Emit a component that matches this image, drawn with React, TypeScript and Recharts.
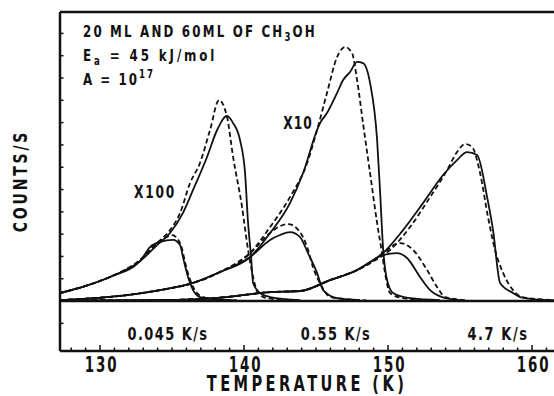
import { LineChart, Line, XAxis, YAxis, ReferenceLine } from "recharts"

// temperature (K) vs desorption rate (arbitrary units, one y tick = 1)
// "exp" = measured (solid), "sim" = simulated (dashed)

// 0.045 K/s
const slow60Exp = [
  { t: 127.22, c: 0.36 }, { t: 128.96, c: 0.67 }, { t: 130.69, c: 1.08 }, { t: 132.78, c: 1.79 },
  { t: 133.96, c: 2.51 }, { t: 134.86, c: 3.05 }, { t: 135.76, c: 3.95 }, { t: 136.46, c: 4.98 },
  { t: 137.43, c: 6.46 }, { t: 138.13, c: 7.67 }, { t: 138.82, c: 8.3 }, { t: 139.24, c: 7.98 },
  { t: 139.72, c: 7.22 }, { t: 140.07, c: 5.74 }, { t: 140.28, c: 3.5 }, { t: 140.49, c: 1.97 },
  { t: 140.63, c: 0.81 }, { t: 141.11, c: 0.36 }, { t: 141.81, c: 0.18 }, { t: 143.89, c: 0.04 },
]
const slow60Sim = [
  { t: 127.22, c: 0.36 }, { t: 128.96, c: 0.67 }, { t: 130.69, c: 1.08 }, { t: 132.78, c: 1.84 },
  { t: 133.96, c: 2.6 }, { t: 134.86, c: 3.18 }, { t: 135.56, c: 3.95 }, { t: 136.25, c: 5.29 },
  { t: 136.94, c: 6.19 }, { t: 137.64, c: 7.67 }, { t: 138.26, c: 9.01 }, { t: 138.82, c: 8.25 },
  { t: 139.24, c: 6.46 }, { t: 139.86, c: 4.22 }, { t: 140.28, c: 2.29 }, { t: 140.63, c: 1.08 },
  { t: 140.97, c: 0.36 }, { t: 141.6, c: 0.13 }, { t: 143.5, c: 0.03 },
]
const slow20Exp = [
  { t: 127.22, c: 0.36 }, { t: 128.96, c: 0.67 }, { t: 130.69, c: 1.08 }, { t: 132.78, c: 1.79 },
  { t: 133.47, c: 2.42 }, { t: 134.17, c: 2.65 }, { t: 135.07, c: 2.74 }, { t: 135.56, c: 2.51 },
  { t: 135.76, c: 1.97 }, { t: 136.11, c: 1.08 }, { t: 136.46, c: 0.49 }, { t: 136.94, c: 0.18 },
  { t: 137.85, c: 0.09 }, { t: 139.5, c: 0.03 },
]
const slow20Sim = [
  { t: 127.22, c: 0.36 }, { t: 128.96, c: 0.67 }, { t: 130.69, c: 1.08 }, { t: 132.78, c: 1.84 },
  { t: 133.96, c: 2.6 }, { t: 134.51, c: 2.83 }, { t: 135.0, c: 2.96 }, { t: 135.56, c: 2.6 },
  { t: 136.04, c: 1.39 }, { t: 136.46, c: 0.63 }, { t: 137.15, c: 0.18 }, { t: 137.99, c: 0.09 },
  { t: 139.5, c: 0.03 },
]

// 0.55 K/s
const mid60Exp = [
  { t: 127.22, c: 0.04 }, { t: 131.88, c: 0.27 }, { t: 134.17, c: 0.49 }, { t: 136.46, c: 0.81 },
  { t: 138.33, c: 1.3 }, { t: 140.42, c: 1.97 }, { t: 141.81, c: 3.05 }, { t: 143.19, c: 4.39 },
  { t: 144.1, c: 5.74 }, { t: 145.07, c: 7.67 }, { t: 145.28, c: 7.98 }, { t: 145.76, c: 8.43 },
  { t: 146.46, c: 9.33 }, { t: 146.88, c: 9.91 }, { t: 147.36, c: 10.27 }, { t: 147.85, c: 10.72 },
  { t: 148.26, c: 10.67 }, { t: 148.75, c: 9.78 }, { t: 149.24, c: 7.22 }, { t: 149.44, c: 4.98 },
  { t: 149.65, c: 2.42 }, { t: 149.93, c: 0.94 }, { t: 150.35, c: 0.36 }, { t: 151.53, c: 0.13 },
  { t: 153.61, c: 0.04 },
]
const mid60Sim = [
  { t: 127.22, c: 0.04 }, { t: 131.88, c: 0.27 }, { t: 134.17, c: 0.49 }, { t: 136.46, c: 0.81 },
  { t: 138.33, c: 1.3 }, { t: 140.42, c: 2.15 }, { t: 141.81, c: 3.32 }, { t: 143.19, c: 4.66 },
  { t: 144.38, c: 6.19 }, { t: 145.07, c: 7.67 }, { t: 145.76, c: 9.33 }, { t: 146.46, c: 10.94 },
  { t: 147.01, c: 11.39 }, { t: 147.5, c: 11.12 }, { t: 147.85, c: 9.91 }, { t: 148.26, c: 7.98 },
  { t: 148.75, c: 5.74 }, { t: 149.24, c: 3.5 }, { t: 149.58, c: 2.15 }, { t: 149.79, c: 1.26 },
  { t: 150.14, c: 0.36 }, { t: 151.04, c: 0.13 }, { t: 153.0, c: 0.03 },
]
const mid20Exp = [
  { t: 127.22, c: 0.04 }, { t: 131.88, c: 0.27 }, { t: 134.17, c: 0.49 }, { t: 136.46, c: 0.81 },
  { t: 138.33, c: 1.3 }, { t: 140.42, c: 1.97 }, { t: 141.81, c: 2.74 }, { t: 142.5, c: 2.96 },
  { t: 143.19, c: 3.09 }, { t: 143.89, c: 2.87 }, { t: 144.44, c: 2.15 }, { t: 145.07, c: 1.26 },
  { t: 145.49, c: 0.49 }, { t: 146.46, c: 0.13 }, { t: 148.06, c: 0.04 },
]
const mid20Sim = [
  { t: 127.22, c: 0.04 }, { t: 131.88, c: 0.27 }, { t: 134.17, c: 0.49 }, { t: 136.46, c: 0.81 },
  { t: 138.33, c: 1.3 }, { t: 140.42, c: 2.15 }, { t: 141.81, c: 3.05 }, { t: 142.5, c: 3.36 },
  { t: 143.06, c: 3.45 }, { t: 143.89, c: 3.09 }, { t: 144.38, c: 2.42 }, { t: 144.79, c: 1.52 },
  { t: 145.42, c: 0.63 }, { t: 145.97, c: 0.18 }, { t: 147.01, c: 0.09 }, { t: 148.5, c: 0.03 },
]

// 4.7 K/s
const fast60Exp = [
  { t: 127.22, c: 0.02 }, { t: 134.17, c: 0.04 }, { t: 138.82, c: 0.18 }, { t: 141.81, c: 0.4 },
  { t: 143.89, c: 0.45 }, { t: 145.97, c: 0.94 }, { t: 147.85, c: 1.39 }, { t: 148.75, c: 1.75 },
  { t: 149.65, c: 2.15 }, { t: 151.04, c: 3.18 }, { t: 152.43, c: 4.39 }, { t: 153.82, c: 5.65 },
  { t: 154.79, c: 6.32 }, { t: 155.49, c: 6.68 }, { t: 156.18, c: 6.55 }, { t: 156.88, c: 4.66 },
  { t: 157.29, c: 3.18 }, { t: 157.78, c: 0.81 }, { t: 158.68, c: 0.36 }, { t: 159.17, c: 0.18 },
  { t: 160.56, c: 0.06 }, { t: 161.94, c: 0.03 },
]
const fast60Sim = [
  { t: 127.22, c: 0.02 }, { t: 134.17, c: 0.04 }, { t: 138.82, c: 0.18 }, { t: 141.81, c: 0.4 },
  { t: 143.89, c: 0.45 }, { t: 145.97, c: 0.94 }, { t: 147.85, c: 1.39 }, { t: 148.75, c: 1.7 },
  { t: 150.14, c: 2.29 }, { t: 151.53, c: 3.32 }, { t: 152.92, c: 4.66 }, { t: 154.1, c: 5.87 },
  { t: 154.79, c: 6.68 }, { t: 155.35, c: 7.04 }, { t: 155.83, c: 6.91 }, { t: 156.39, c: 5.74 },
  { t: 156.94, c: 3.77 }, { t: 157.43, c: 2.29 }, { t: 157.99, c: 1.26 }, { t: 158.68, c: 0.49 },
  { t: 159.31, c: 0.18 }, { t: 160.9, c: 0.06 }, { t: 161.94, c: 0.03 },
]
const fast20Exp = [
  { t: 127.22, c: 0.02 }, { t: 134.17, c: 0.04 }, { t: 138.82, c: 0.18 }, { t: 141.81, c: 0.4 },
  { t: 143.89, c: 0.45 }, { t: 145.97, c: 0.94 }, { t: 147.85, c: 1.39 }, { t: 148.75, c: 1.75 },
  { t: 149.65, c: 2.06 }, { t: 150.63, c: 2.15 }, { t: 151.32, c: 1.93 }, { t: 152.22, c: 1.08 },
  { t: 152.92, c: 0.49 }, { t: 153.75, c: 0.18 }, { t: 155.0, c: 0.04 },
]
const fast20Sim = [
  { t: 127.22, c: 0.02 }, { t: 134.17, c: 0.04 }, { t: 138.82, c: 0.18 }, { t: 141.81, c: 0.4 },
  { t: 143.89, c: 0.45 }, { t: 145.97, c: 0.94 }, { t: 147.85, c: 1.39 }, { t: 148.75, c: 1.7 },
  { t: 149.65, c: 2.15 }, { t: 150.83, c: 2.6 }, { t: 151.74, c: 2.29 }, { t: 152.71, c: 1.39 },
  { t: 153.4, c: 0.63 }, { t: 153.96, c: 0.18 }, { t: 155.35, c: 0.04 },
]

const xTicks = [128, 129, 130, 131, 132, 133, 134, 135, 136, 137, 138, 139, 140, 141, 142, 143, 144,
  145, 146, 147, 148, 149, 150, 151, 152, 153, 154, 155, 156, 157, 158, 159, 160, 161]
const xLabelled = [130, 140, 150, 160]
const yTicks = [-1, 0, 1, 2, 3, 4, 5, 6, 7, 8, 9, 10, 11, 12]

const measured = [slow60Exp, slow20Exp, mid60Exp, mid20Exp, fast60Exp, fast20Exp]
const simulated = [slow60Sim, slow20Sim, mid60Sim, mid20Sim, fast60Sim, fast20Sim]

const FONT = "'DejaVu Sans', sans-serif"
const INK = "#111"

// bold lettering, squeezed horizontally like the narrow typeface of the scan
function Cond(props: any) {
  const { x, y, size, sx = 0.72, ls = 2, anchor = "start", rotate, children } = props
  const tf = `translate(${x} ${y})` + (rotate ? ` rotate(${rotate})` : "") + ` scale(${sx} 1)`
  return (
    <text
      x={0}
      y={0}
      transform={tf}
      fontFamily={FONT}
      fontWeight="bold"
      fontSize={size}
      letterSpacing={ls}
      fill={INK}
      textAnchor={anchor}
    >
      {children}
    </text>
  )
}

function XTick(props: any) {
  const { x, y, payload } = props
  const major = xLabelled.includes(payload.value)
  return (
    <g>
      <line x1={x} x2={x} y1={y} y2={y - (major ? 6 : 3.5)} stroke={INK} strokeWidth={1.5} />
      {major && (
        <Cond x={x + 1.5} y={y + 21} size={21} sx={0.64} ls={3} anchor="middle">
          {payload.value}
        </Cond>
      )}
    </g>
  )
}

function YTick(props: any) {
  const { x, y } = props
  return <line x1={x} x2={x + 3.5} y1={y} y2={y} stroke={INK} strokeWidth={1.5} />
}

export default function App() {
  return (
    <div style={{ position: "absolute", left: 0, top: 0, width: 554, height: 396, overflow: "hidden", background: "#fff" }}>
      <LineChart width={560} height={396} margin={{ top: 12, right: 0, left: 0, bottom: 0 }}>
        <XAxis
          dataKey="t"
          type="number"
          domain={[127.22, 161.94]}
          ticks={xTicks}
          interval={0}
          allowDataOverflow
          height={45}
          tickSize={0}
          tickMargin={0}
          tickLine={false}
          tick={<XTick />}
          axisLine={{ stroke: INK, strokeWidth: 2.5 }}
        />
        <YAxis
          type="number"
          domain={[-2.24, 12.96]}
          ticks={yTicks}
          interval={0}
          allowDataOverflow
          width={60}
          tickSize={0}
          tickMargin={0}
          tickLine={false}
          tick={<YTick />}
          axisLine={{ stroke: INK, strokeWidth: 2.5 }}
        />
        <ReferenceLine y={12.96} stroke={INK} strokeWidth={2.5} ifOverflow="visible" />
        <ReferenceLine y={0} stroke={INK} strokeWidth={2.5} />
        {measured.map((d, i) => (
          <Line key={"m" + i} data={d} dataKey="c" type="monotone" stroke={INK} strokeWidth={1.8}
            dot={false} isAnimationActive={false} />
        ))}
        {simulated.map((d, i) => (
          <Line key={"s" + i} data={d} dataKey="c" type="monotone" stroke={INK} strokeWidth={1.8}
            strokeDasharray="5 3" dot={false} isAnimationActive={false} />
        ))}
      </LineChart>
      <svg width={554} height={396} style={{ position: "absolute", left: 0, top: 0, pointerEvents: "none" }}>
        <Cond x={83} y={37} size={16.5} ls={3}>
          20 ML AND 60ML OF CH<tspan dy={4} fontSize={12}>3</tspan><tspan dy={-4}>OH</tspan>
        </Cond>
        <Cond x={83} y={61} size={16.5} ls={4}>
          E<tspan dy={4} fontSize={12}>a</tspan><tspan dy={-4}> = 45 kJ/mol</tspan>
        </Cond>
        <Cond x={83} y={85} size={16.5} ls={2.8}>
          A = 10<tspan dy={-7} fontSize={12}>17</tspan>
        </Cond>
        <Cond x={155} y={198} size={17} ls={2.4} anchor="middle">X100</Cond>
        <Cond x={298} y={129} size={17} ls={1.5} anchor="middle">X10</Cond>
        <Cond x={168} y={340} size={18} ls={2} anchor="middle">0.045 K/s</Cond>
        <Cond x={336} y={340} size={18} ls={2} anchor="middle">0.55 K/s</Cond>
        <Cond x={498} y={340} size={18} ls={2.2} anchor="middle">4.7 K/s</Cond>
        <Cond x={307} y={391} size={21.5} sx={0.68} ls={5} anchor="middle">TEMPERATURE (K)</Cond>
        <Cond x={27} y={181} size={20} sx={0.7} ls={4} anchor="middle" rotate={-90}>COUNTS/S</Cond>
      </svg>
    </div>
  )
}
